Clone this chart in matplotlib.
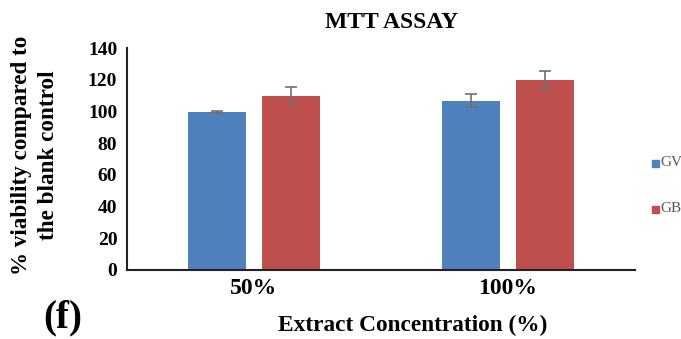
import matplotlib
matplotlib.use("Agg")
import matplotlib.pyplot as plt
import numpy as np

categories = ["50%", "100%"]
series_names = ["GV", "GB"]
gv_values = [100, 107]
gv_errors = [0.6, 4]
gb_values = [110, 120]
gb_errors = [5.3, 5.8]
y_ticks = [0, 20, 40, 60, 80, 100, 120, 140]

colors = ["#4F81BD", "#C0504D"]
serif = ["Liberation Serif", "DejaVu Serif"]
plt.rcParams['font.family'] = serif

fig = plt.figure(figsize=(6.81, 3.39), dpi=100)
ax = fig.add_axes([127/681, 1-270/339, (635-127)/681, (270-48.3)/339])

x = np.arange(len(categories))
w = 0.228
off = 0.144
err_kw = dict(ecolor="#707070", elinewidth=1.2, capsize=4, capthick=1.2)
ax.bar(x - off, gv_values, w, yerr=gv_errors, color=colors[0], error_kw=err_kw, zorder=2)
ax.bar(x + off, gb_values, w, yerr=gb_errors, color=colors[1], error_kw=err_kw, zorder=2)

ax.set_xlim(-0.5, 1.5)
ax.set_ylim(0, 140)
ax.set_yticks(y_ticks)
ax.set_xticks(x)
ax.set_xticklabels(categories, fontsize=17, fontweight="bold")
ax.set_yticklabels([str(t) for t in y_ticks], fontsize=14, fontweight="bold")
ax.tick_params(axis="both", length=0)
ax.tick_params(axis="y", pad=7)
ax.tick_params(axis="x", pad=6)
for s in ["top", "right"]:
    ax.spines[s].set_visible(False)
for s in ["left", "bottom"]:
    ax.spines[s].set_color("#222222")
    ax.spines[s].set_linewidth(1.5)

fig.text(392/681, 1-23/339, "MTT ASSAY", ha="center", va="center", fontsize=17, fontweight="bold")
fig.text(413/681, 1-325/339, "Extract Concentration (%)", ha="center", va="center", fontsize=16.8, fontweight="bold")
fig.text(22/681, 1-155/339, "% viability compared to", rotation=90, ha="center", va="center", fontsize=16.7, fontweight="bold")
fig.text(49/681, 1-155/339, "the blank control", rotation=90, ha="center", va="center", fontsize=16.7, fontweight="bold")
fig.text(63/681, 1-318/339, "(f)", ha="center", va="center", fontsize=28, fontweight="bold")

# legend
for i, (name, yy) in enumerate(zip(series_names, [163, 209])):
    fig.patches.append(plt.Rectangle((652/681, 1-(yy+3.5)/339), 7/681, 7/339,
                                     transform=fig.transFigure, color=colors[i], figure=fig))
    fig.text(660/681, 1-yy/339, name, ha="left", va="center", fontsize=11, color="#555555")

fig.savefig("out.png", dpi=100)
